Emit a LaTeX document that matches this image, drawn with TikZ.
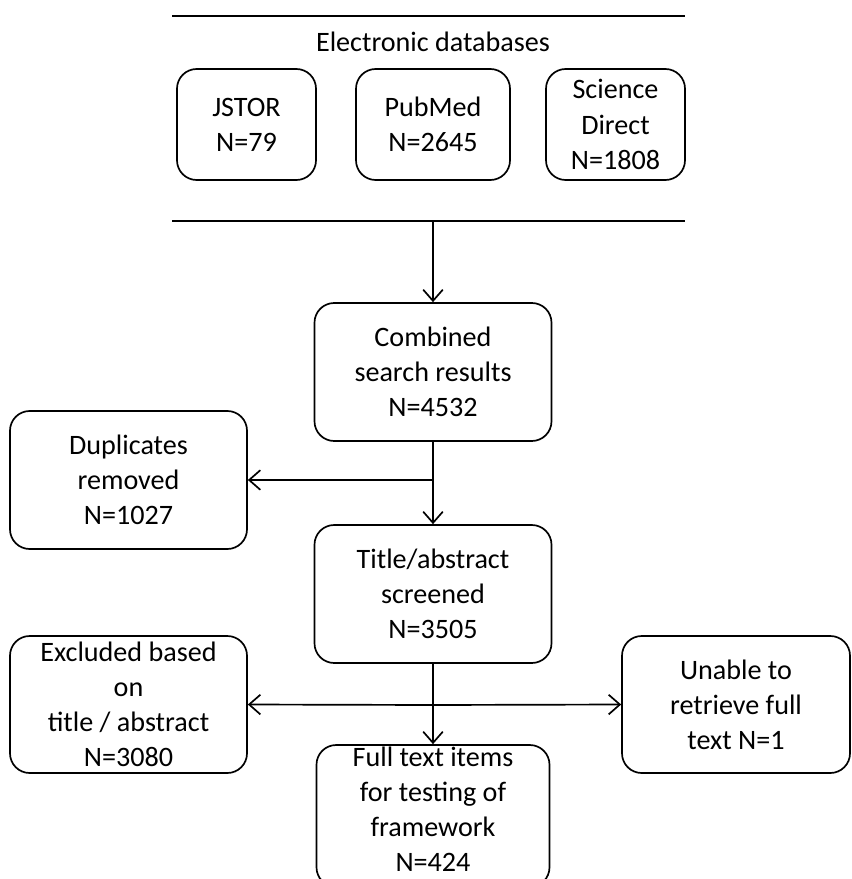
\documentclass[tikz,border=0pt]{standalone}
\usepackage{fontspec}
\setmainfont{Carlito}
\usetikzlibrary{arrows.meta}

\tikzset{
  flowbox/.style 2 args={draw, rounded corners=14pt, line width=1.2pt, align=center,
    inner sep=0pt, minimum width=#1*0.025cm, minimum height=#2*0.025cm},
  flowarrow/.style={line width=1.2pt, -{Straight Barb[length=8pt,width=14pt,line width=1.2pt]}},
  rule/.style={line width=1.2pt}
}

\begin{document}
\begin{tikzpicture}[x=0.025cm, y=-0.025cm, font=\fontsize{20}{25}\selectfont]
        \useasboundingbox (0,0) rectangle (851,879);
        \clip (0,0) rectangle (851,879);

        \coordinate (TopL) at (172,16);
        \coordinate (TopR) at (685,16);
        \coordinate (BotL) at (172,221);
        \coordinate (BotR) at (685,221);
        \coordinate (Split) at (433,221);
        \coordinate (DupJoin) at (433,480);
        \coordinate (ExclJoin) at (433,705);

        \draw[rule] (TopL) -- (TopR);
        \draw[rule] (BotL) -- (BotR);
        \node (elec) at (433,42) {Electronic databases};

        \node[flowbox={139}{111}] (jstor) at (246.5,124.5) {JSTOR\\N=79};
        \node[flowbox={154}{111}] (pubmed) at (433,124.5) {PubMed\\N=2645};
        \node[flowbox={139}{111}] (science) at (615.5,124.5) {Science\\Direct\\N=1808};

        \node[flowbox={237}{138}] (combined) at (433,372) {Combined\\search results\\N=4532};
        \node[flowbox={237}{138}] (dupl) at (128.5,480) {Duplicates\\removed\\N=1027};
        \node[flowbox={237}{138}] (title) at (433,594) {Title/abstract\\screened\\N=3505};
        \node[flowbox={237}{137}] (excl) at (128.5,704.5) {Excluded based\\on\\title / abstract\\N=3080};
        \node[flowbox={228}{137}] (unable) at (736,704.5) {Unable to\\retrieve full\\text N=1};
        \node[flowbox={233}{142}, text depth=10pt] (full) at (433,816) {Full text items\\for testing of\\framework\\N=424};

        \draw[flowarrow] (Split) -- (combined.north);
        \draw[rule] (combined.south) -- (DupJoin);
        \draw[flowarrow] (DupJoin) -- (title.north);
        \draw[flowarrow] (DupJoin) -- (dupl.east);
        \draw[rule] (title.south) -- (ExclJoin);
        \draw[flowarrow] (ExclJoin) -- (full.north);
        \draw[flowarrow] (ExclJoin) -- (excl.east);
        \draw[flowarrow] (ExclJoin) -- (unable.west);

    \end{tikzpicture}
\end{document}
